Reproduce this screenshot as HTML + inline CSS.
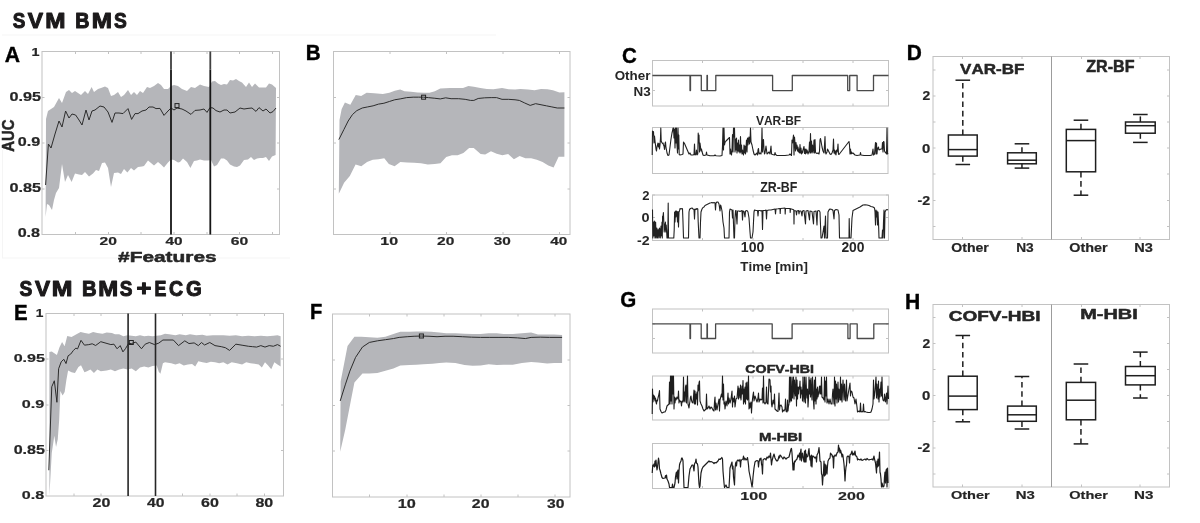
<!DOCTYPE html>
<html><head><meta charset="utf-8"><title>Figure</title>
<style>
html,body{margin:0;padding:0;background:#fff;}
body{width:1200px;height:523px;overflow:hidden;}
svg{display:block;will-change:transform;}
text{font-family:"Liberation Sans",sans-serif;font-weight:bold;font-kerning:none;}
</style></head>
<body>
<svg width="1200" height="523" viewBox="0 0 1200 523">
<rect width="1200" height="523" fill="#fff"/>
<text x="12.76" y="28.2" font-size="21.37" textLength="12.58" lengthAdjust="spacingAndGlyphs" fill="#1c1a1b" stroke="#1c1a1b" stroke-width="1.0" stroke-linejoin="round" >S</text>
<text x="27.84" y="28.2" font-size="21.37" textLength="15.31" lengthAdjust="spacingAndGlyphs" fill="#1c1a1b" stroke="#1c1a1b" stroke-width="1.0" stroke-linejoin="round" >V</text>
<text x="45.37" y="28.2" font-size="21.37" textLength="20.25" lengthAdjust="spacingAndGlyphs" fill="#1c1a1b" stroke="#1c1a1b" stroke-width="1.0" stroke-linejoin="round" >M</text>
<text x="75.18" y="28.2" font-size="21.37" textLength="14.21" lengthAdjust="spacingAndGlyphs" fill="#1c1a1b" stroke="#1c1a1b" stroke-width="1.0" stroke-linejoin="round" >B</text>
<text x="91.87" y="28.2" font-size="21.37" textLength="20.25" lengthAdjust="spacingAndGlyphs" fill="#1c1a1b" stroke="#1c1a1b" stroke-width="1.0" stroke-linejoin="round" >M</text>
<text x="113.95" y="28.2" font-size="21.37" textLength="12.8" lengthAdjust="spacingAndGlyphs" fill="#1c1a1b" stroke="#1c1a1b" stroke-width="1.0" stroke-linejoin="round" >S</text>
<text x="19.55" y="295.6" font-size="21.37" textLength="12.8" lengthAdjust="spacingAndGlyphs" fill="#1c1a1b" stroke="#1c1a1b" stroke-width="1.0" stroke-linejoin="round" >S</text>
<text x="34.95" y="295.6" font-size="21.37" textLength="15.11" lengthAdjust="spacingAndGlyphs" fill="#1c1a1b" stroke="#1c1a1b" stroke-width="1.0" stroke-linejoin="round" >V</text>
<text x="51.74" y="295.6" font-size="21.37" textLength="20.67" lengthAdjust="spacingAndGlyphs" fill="#1c1a1b" stroke="#1c1a1b" stroke-width="1.0" stroke-linejoin="round" >M</text>
<text x="82.05" y="295.6" font-size="21.37" textLength="14.62" lengthAdjust="spacingAndGlyphs" fill="#1c1a1b" stroke="#1c1a1b" stroke-width="1.0" stroke-linejoin="round" >B</text>
<text x="98.2" y="295.6" font-size="21.37" textLength="19.9" lengthAdjust="spacingAndGlyphs" fill="#1c1a1b" stroke="#1c1a1b" stroke-width="1.0" stroke-linejoin="round" >M</text>
<text x="119.75" y="295.6" font-size="21.37" textLength="12.69" lengthAdjust="spacingAndGlyphs" fill="#1c1a1b" stroke="#1c1a1b" stroke-width="1.0" stroke-linejoin="round" >S</text>
<text x="136.63" y="295.6" font-size="21.37" textLength="14.91" lengthAdjust="spacingAndGlyphs" fill="#1c1a1b" stroke="#1c1a1b" stroke-width="1.0" stroke-linejoin="round" >+</text>
<text x="154.41" y="295.6" font-size="21.37" textLength="11.89" lengthAdjust="spacingAndGlyphs" fill="#1c1a1b" stroke="#1c1a1b" stroke-width="1.0" stroke-linejoin="round" >E</text>
<text x="169" y="295.6" font-size="21.37" textLength="14.14" lengthAdjust="spacingAndGlyphs" fill="#1c1a1b" stroke="#1c1a1b" stroke-width="1.0" stroke-linejoin="round" >C</text>
<text x="185.97" y="295.6" font-size="21.37" textLength="15.79" lengthAdjust="spacingAndGlyphs" fill="#1c1a1b" stroke="#1c1a1b" stroke-width="1.0" stroke-linejoin="round" >G</text>
<g stroke="#f5f5f5" stroke-width="1">
<line x1="2" y1="35" x2="496" y2="35"/>
<line x1="2.5" y1="150" x2="2.5" y2="258"/>
<line x1="2" y1="258" x2="290" y2="258"/>
</g>
<text x="4.87" y="61.9" font-size="21.51" textLength="15.29" lengthAdjust="spacingAndGlyphs" fill="#000" stroke="#000" stroke-width="0.4" stroke-linejoin="round" >A</text>
<polygon points="46,119 48,111 51,109 54,107 59,98 62,103 66,92 69,90 72,93 75,91 78,93 81,95 85,91 88,94 91.6,87 94,92 98,89 101,88 105,86.6 108,88 111,96 114,95 118,92 121,97 124,95 128,90 131,95 134,92 137,95 140,91 143,93 147,87 150,88 154,86 158,83 161,85 164,89 168,89 171,86 174,85 178,86 182,89 187,91 191,87 195,88 200,84.4 204,86 209,87 212,81.6 215,81 218,83.6 221,85 224,84 227,84.4 230,80 233,80.4 236,79 239,81 242,82.4 246,87 249,82.4 252,87 255,83.6 259,87.6 262,87.6 266,87.6 269,83.6 272,84.4 276,88 275.6,155 272,156.4 269,161 266,157 263,158 260,158 257,158.4 254,160 251,157 248,159.6 244,160 240,165.4 237,167 234,166.4 230,164.4 227,160.6 224,158.4 221,158.4 217,165 214,166.6 211,160 208,160.4 204,160.6 200,159.6 197,160.6 194,161 190.4,168 187,162 183,158.4 180,162 178,162.4 174,160 171,159.6 168,162.4 164,167.6 161,164.4 158,162 154,165.6 151,163 148,160.6 144,166 142,166.6 138,167 134,170.6 131,168 127.4,172.4 124,169 121,174 118,172.4 114,173 111,187 108,168 105,162.4 102,163 99,171 96,170 93,173.6 89,176.6 85,172 82,175 79,174.4 75,173.6 71.6,182 68,175 65,182 62,164 59,188 56,193 54,200 52,210 49,205 47,204 45.6,217" fill="#b5b6ba" stroke="none"/>
<polyline points="45.6,185 48.4,144 51,148 55,134 59,121 62,127 65.6,111 69,118 72,114 75.6,115 79,120 82,125 86,110 89,120 92,111 95,110 100,106 104,107 108,112 112,122.4 115,113 119,113 123,113.6 128,108.6 131.6,119.4 135,113.6 138,113.6 142,111 146,110 149,107 153,107 156,108.6 160,108.4 164,115.4 168,111 171,108 174,110 177,108 182,109 186,111 191,114.4 195,110.4 200,110 204,109 207,112.4 210,107.6 213,108 216,110.6 220,112 224,110 227,110 230,113 235,112 240,108 244,109 248,108.4 252,108 256,111.4 259,107.6 263,111 266,109 270,113 273,111.6 276,108" fill="none" stroke="#2c2c2c" stroke-width="1.0" stroke-linejoin="round"/>
<rect x="42" y="51.5" width="237.5" height="183" fill="none" stroke="#c2c2c2" stroke-width="1"/>
<line x1="75.5" y1="234.5" x2="75.5" y2="232" stroke="#c2c2c2" stroke-width="1" />
<line x1="75.5" y1="51.5" x2="75.5" y2="54" stroke="#c2c2c2" stroke-width="1" />
<line x1="108.5" y1="234.5" x2="108.5" y2="232" stroke="#c2c2c2" stroke-width="1" />
<line x1="108.5" y1="51.5" x2="108.5" y2="54" stroke="#c2c2c2" stroke-width="1" />
<line x1="141" y1="234.5" x2="141" y2="232" stroke="#c2c2c2" stroke-width="1" />
<line x1="141" y1="51.5" x2="141" y2="54" stroke="#c2c2c2" stroke-width="1" />
<line x1="174" y1="234.5" x2="174" y2="232" stroke="#c2c2c2" stroke-width="1" />
<line x1="174" y1="51.5" x2="174" y2="54" stroke="#c2c2c2" stroke-width="1" />
<line x1="207" y1="234.5" x2="207" y2="232" stroke="#c2c2c2" stroke-width="1" />
<line x1="207" y1="51.5" x2="207" y2="54" stroke="#c2c2c2" stroke-width="1" />
<line x1="239.5" y1="234.5" x2="239.5" y2="232" stroke="#c2c2c2" stroke-width="1" />
<line x1="239.5" y1="51.5" x2="239.5" y2="54" stroke="#c2c2c2" stroke-width="1" />
<line x1="272.5" y1="234.5" x2="272.5" y2="232" stroke="#c2c2c2" stroke-width="1" />
<line x1="272.5" y1="51.5" x2="272.5" y2="54" stroke="#c2c2c2" stroke-width="1" />
<line x1="42" y1="189" x2="44.5" y2="189" stroke="#c2c2c2" stroke-width="1" />
<line x1="279.5" y1="189" x2="277" y2="189" stroke="#c2c2c2" stroke-width="1" />
<line x1="42" y1="143" x2="44.5" y2="143" stroke="#c2c2c2" stroke-width="1" />
<line x1="279.5" y1="143" x2="277" y2="143" stroke="#c2c2c2" stroke-width="1" />
<line x1="42" y1="97.5" x2="44.5" y2="97.5" stroke="#c2c2c2" stroke-width="1" />
<line x1="279.5" y1="97.5" x2="277" y2="97.5" stroke="#c2c2c2" stroke-width="1" />
<line x1="171" y1="51.5" x2="171" y2="69.5" stroke="#404040" stroke-width="1.8" />
<line x1="171" y1="69.5" x2="171" y2="234.5" stroke="#161616" stroke-width="1.8" />
<line x1="210.3" y1="51.5" x2="210.3" y2="69.5" stroke="#404040" stroke-width="1.8" />
<line x1="210.3" y1="69.5" x2="210.3" y2="234.5" stroke="#161616" stroke-width="1.8" />
<rect x="175" y="103.6" width="4" height="4" fill="none" stroke="#222" stroke-width="1"/>
<text x="31.49" y="56" font-size="11.77" textLength="8.01" lengthAdjust="spacingAndGlyphs" fill="#262626" stroke="#262626" stroke-width="0.2" stroke-linejoin="round" >1</text>
<text x="9.46" y="100.7" font-size="12.03" textLength="31.49" lengthAdjust="spacingAndGlyphs" fill="#262626" stroke="#262626" stroke-width="0.2" stroke-linejoin="round" >0.95</text>
<text x="17.86" y="146" font-size="12.03" textLength="22.44" lengthAdjust="spacingAndGlyphs" fill="#262626" stroke="#262626" stroke-width="0.2" stroke-linejoin="round" >0.9</text>
<text x="9.46" y="191.85" font-size="12.03" textLength="31.59" lengthAdjust="spacingAndGlyphs" fill="#262626" stroke="#262626" stroke-width="0.2" stroke-linejoin="round" >0.85</text>
<text x="17.66" y="237.1" font-size="12.03" textLength="22.43" lengthAdjust="spacingAndGlyphs" fill="#262626" stroke="#262626" stroke-width="0.2" stroke-linejoin="round" >0.8</text>
<text x="99.51" y="245.1" font-size="11.74" textLength="17.38" lengthAdjust="spacingAndGlyphs" fill="#262626" stroke="#262626" stroke-width="0.2" stroke-linejoin="round" >20</text>
<text x="165.57" y="245.1" font-size="11.74" textLength="17.06" lengthAdjust="spacingAndGlyphs" fill="#262626" stroke="#262626" stroke-width="0.2" stroke-linejoin="round" >40</text>
<text x="230.73" y="245.1" font-size="11.74" textLength="17.42" lengthAdjust="spacingAndGlyphs" fill="#262626" stroke="#262626" stroke-width="0.2" stroke-linejoin="round" >60</text>
<text x="118.14" y="262.25" font-size="14.9" textLength="98.46" lengthAdjust="spacingAndGlyphs" fill="#262626" stroke="#262626" stroke-width="0.5" stroke-linejoin="round" >#Features</text>
<text transform="translate(14,151.72) rotate(-90)" x="0" y="0" font-size="16.54" textLength="32.38" lengthAdjust="spacingAndGlyphs" fill="#262626" stroke="#262626" stroke-width="0.5">AUC</text>
<text x="305.82" y="60.3" font-size="21.95" textLength="14.92" lengthAdjust="spacingAndGlyphs" fill="#000" stroke="#000" stroke-width="0.4" stroke-linejoin="round" >B</text>
<polygon points="339.5,119.92 341.67,109.09 344.92,102.59 350.34,104.76 355.75,95.01 361.17,96.09 366.59,92.84 374.17,93.27 382.84,93.92 389.34,92.84 394.76,90.67 400.17,89.59 404.51,91.32 411.01,91.76 417.51,92.41 424.01,92.84 429.43,92.84 434.84,91.32 440.26,88.5 450.01,88.07 456.51,88.07 463.01,88.07 468.43,85.9 473.85,86.77 480.35,88.07 486.85,88.94 493.35,89.15 502.02,88.07 508.52,89.15 515.02,89.59 520.43,88.94 528.02,89.59 534.52,90.24 541.02,88.94 547.52,89.15 552.94,90.24 559.44,92.41 564.42,92.19 564.38,156.85 558.64,156.85 553.59,167.4 548.32,165.57 542.58,162.12 536.84,159.83 531.11,158.22 525.37,158.22 519.63,155.93 513.9,159.37 508.16,154.09 502.42,155.24 496.69,153.63 490.95,151.34 485.21,154.55 480.62,154.09 473.74,147.9 469.15,147.9 463.41,152.95 457.68,155.24 451.94,155.24 446.2,157.08 440.47,163.27 434.73,163.96 427.85,164.42 420.96,163.27 414.08,162.81 407.2,162.58 400.31,162.12 394.58,166.26 388.84,163.96 384.25,158.22 378.51,159.37 372.78,159.83 367.04,162.12 361.3,166.26 355.57,164.42 349.83,175.89 344.09,182.78 338.82,193.79" fill="#b5b6ba" stroke="none"/>
<polyline points="338.82,139.64 343.84,129.67 348.17,121.01 352.5,114.51 356.84,110.61 362.25,108.01 367.67,106.92 373.09,105.84 378.5,104.11 383.92,103.24 389.34,101.51 394.76,99.77 400.17,98.91 406.67,97.61 413.17,97.17 418.59,97.17 423.58,97.17 428.34,97.61 434.84,98.26 440.26,98.91 445.68,97.82 451.09,98.69 458.68,98.69 465.18,99.34 470.6,100.42 473.85,100.42 478.18,98.47 484.68,97.82 491.18,97.61 496.6,97.61 502.02,99.34 508.52,99.34 515.02,99.77 519.35,100.42 524.77,103.02 530.18,105.41 535.6,103.67 541.02,104.76 546.44,105.84 551.85,106.92 557.27,108.01 564.42,108.01" fill="none" stroke="#2c2c2c" stroke-width="1.0" stroke-linejoin="round"/>
<rect x="333.5" y="51.5" width="236.5" height="183" fill="none" stroke="#c2c2c2" stroke-width="1"/>
<line x1="390" y1="234.5" x2="390" y2="232" stroke="#c2c2c2" stroke-width="1" />
<line x1="390" y1="51.5" x2="390" y2="54" stroke="#c2c2c2" stroke-width="1" />
<line x1="446.5" y1="234.5" x2="446.5" y2="232" stroke="#c2c2c2" stroke-width="1" />
<line x1="446.5" y1="51.5" x2="446.5" y2="54" stroke="#c2c2c2" stroke-width="1" />
<line x1="503" y1="234.5" x2="503" y2="232" stroke="#c2c2c2" stroke-width="1" />
<line x1="503" y1="51.5" x2="503" y2="54" stroke="#c2c2c2" stroke-width="1" />
<line x1="559.5" y1="234.5" x2="559.5" y2="232" stroke="#c2c2c2" stroke-width="1" />
<line x1="559.5" y1="51.5" x2="559.5" y2="54" stroke="#c2c2c2" stroke-width="1" />
<line x1="333.5" y1="189" x2="336" y2="189" stroke="#c2c2c2" stroke-width="1" />
<line x1="570" y1="189" x2="567.5" y2="189" stroke="#c2c2c2" stroke-width="1" />
<line x1="333.5" y1="143" x2="336" y2="143" stroke="#c2c2c2" stroke-width="1" />
<line x1="570" y1="143" x2="567.5" y2="143" stroke="#c2c2c2" stroke-width="1" />
<line x1="333.5" y1="97.5" x2="336" y2="97.5" stroke="#c2c2c2" stroke-width="1" />
<line x1="570" y1="97.5" x2="567.5" y2="97.5" stroke="#c2c2c2" stroke-width="1" />
<rect x="421.6" y="95.2" width="4" height="4" fill="none" stroke="#222" stroke-width="1"/>
<text x="380.34" y="245.2" font-size="11.6" textLength="17.76" lengthAdjust="spacingAndGlyphs" fill="#262626" stroke="#262626" stroke-width="0.2" stroke-linejoin="round" >10</text>
<text x="437.01" y="245.2" font-size="11.6" textLength="17.28" lengthAdjust="spacingAndGlyphs" fill="#262626" stroke="#262626" stroke-width="0.2" stroke-linejoin="round" >20</text>
<text x="493.85" y="245.2" font-size="11.6" textLength="17.08" lengthAdjust="spacingAndGlyphs" fill="#262626" stroke="#262626" stroke-width="0.2" stroke-linejoin="round" >30</text>
<text x="550.22" y="245.2" font-size="11.6" textLength="16.96" lengthAdjust="spacingAndGlyphs" fill="#262626" stroke="#262626" stroke-width="0.2" stroke-linejoin="round" >40</text>
<text x="621.96" y="63" font-size="22.34" textLength="14.8" lengthAdjust="spacingAndGlyphs" fill="#000" stroke="#000" stroke-width="0.4" stroke-linejoin="round" >C</text>
<rect x="652.5" y="60.5" width="236" height="45.5" fill="none" stroke="#c2c2c2" stroke-width="1"/>
<line x1="702.5" y1="106" x2="702.5" y2="103.5" stroke="#c2c2c2" stroke-width="1" />
<line x1="702.5" y1="60.5" x2="702.5" y2="63" stroke="#c2c2c2" stroke-width="1" />
<line x1="753" y1="106" x2="753" y2="103.5" stroke="#c2c2c2" stroke-width="1" />
<line x1="753" y1="60.5" x2="753" y2="63" stroke="#c2c2c2" stroke-width="1" />
<line x1="803" y1="106" x2="803" y2="103.5" stroke="#c2c2c2" stroke-width="1" />
<line x1="803" y1="60.5" x2="803" y2="63" stroke="#c2c2c2" stroke-width="1" />
<line x1="853" y1="106" x2="853" y2="103.5" stroke="#c2c2c2" stroke-width="1" />
<line x1="853" y1="60.5" x2="853" y2="63" stroke="#c2c2c2" stroke-width="1" />
<line x1="652.5" y1="75.5" x2="655" y2="75.5" stroke="#c2c2c2" stroke-width="1" />
<line x1="888.5" y1="75.5" x2="886" y2="75.5" stroke="#c2c2c2" stroke-width="1" />
<line x1="652.5" y1="90.5" x2="655" y2="90.5" stroke="#c2c2c2" stroke-width="1" />
<line x1="888.5" y1="90.5" x2="886" y2="90.5" stroke="#c2c2c2" stroke-width="1" />
<polyline points="652.4,75.5 690,75.5 690,90.6 690.5,90.6 690.5,75.5 701.3,75.5 701.3,90.6 707,90.6 707,75.5 707.4,75.5 707.4,90.6 715.8,90.6 715.8,75.5 772.6,75.5 772.6,90.6 792.3,90.6 792.3,75.5 847.7,75.5 847.7,90.6 849.7,90.6 849.7,75.5 857.1,75.5 857.1,90.6 873.5,90.6 873.5,75.5 888.5,75.5" fill="none" stroke="#4a4a4a" stroke-width="1.3" stroke-linejoin="round"/>
<text x="614.65" y="80.2" font-size="12.6" textLength="35.75" lengthAdjust="spacingAndGlyphs" fill="#262626" >Other</text>
<text x="633.5" y="95.6" font-size="13.61" textLength="17.19" lengthAdjust="spacingAndGlyphs" fill="#262626" >N3</text>
<rect x="652.5" y="127.5" width="235.5" height="46" fill="none" stroke="#c2c2c2" stroke-width="1"/>
<line x1="702.5" y1="173.5" x2="702.5" y2="171" stroke="#c2c2c2" stroke-width="1" />
<line x1="702.5" y1="127.5" x2="702.5" y2="130" stroke="#c2c2c2" stroke-width="1" />
<line x1="753" y1="173.5" x2="753" y2="171" stroke="#c2c2c2" stroke-width="1" />
<line x1="753" y1="127.5" x2="753" y2="130" stroke="#c2c2c2" stroke-width="1" />
<line x1="803" y1="173.5" x2="803" y2="171" stroke="#c2c2c2" stroke-width="1" />
<line x1="803" y1="127.5" x2="803" y2="130" stroke="#c2c2c2" stroke-width="1" />
<line x1="853" y1="173.5" x2="853" y2="171" stroke="#c2c2c2" stroke-width="1" />
<line x1="853" y1="127.5" x2="853" y2="130" stroke="#c2c2c2" stroke-width="1" />
<polyline points="652.2,155 652.5,131 653,135 653.5,131.5 654,143 654.5,136 655,141 655.5,145 656,149 656.5,151 657,147 657.5,145 658,143 658.5,147 659,143.5 659.5,149 660,145 660.5,138 660.8,128 661.2,141 661.8,142.5 662.5,143.5 663,143 663.5,145 664,146 664.5,149.5 665,144 665.5,142 666,148 666.5,150 667,153 668,155.5 669,155 670,147 671,139 672,133 672.5,131 673,128 673.5,128 674,138 674.5,129 675,148 675.5,128 676,143 676.5,128 677,145 677.5,153 678,128 678.5,149 678.8,135 679.2,154.5 680,155 682,154.5 683,154 683.5,142 684.5,143.5 686,147 687.5,150.5 689,154 690,153 691,155 693,155 694,154.5 694.5,144 695,155 696,154 696.5,150 697,155 697.8,154 698.2,133 698.7,143 699,135 699.5,152 700,143 700.5,147 701,151 701.5,149 702,151.5 703,155 704,155.5 706,155 706.5,152 707,155 710,155.8 714,155.8 715,155 716,155.8 720,156 722,155.5 722.5,146 723,128 723.5,150 724,128 724.5,145 725,142.5 726,141 728,139 729.5,137.5 730,154 730.5,149 731,154 731.5,155 732,150 732.5,134.5 733,152 733.5,128 734,137 734.5,128 735,152 735.5,139 736,150 736.5,138 737,153 737.5,143 738,151 738.5,140 739,152 739.5,145 740,153 740.5,136.5 741,152 741.5,145 742,154 742.5,150 743,153 743.5,155 744,145 744.5,153 745,146 745.5,154 746,148 746.5,140 747,152 747.5,138 748,145 748.5,139 749,137 749.5,144 750,141 750.5,128 751,142 752,145 753,150 754,154 755,155 756,154 757,153 757.5,155 758,150 758.5,148.5 759,154 760,153 761,154 761.5,150 762,128 762.5,152 763,141 763.5,139.5 764,150 764.5,154 765,153 766,146 766.5,150 767,154 768,153 769,152 770,154 771,146 771.5,154 772.5,154.5 774.5,155 775,152.5 775.5,154.5 777,155.5 780,155.5 785,155.5 789,155 790,154 791.5,155.5 792,140 792.5,143 793,139 793.5,135 794,155 794.5,137 795,143 795.5,151 796,142.5 796.5,149 797,145 797.5,151 798,147 798.5,152 799,149 799.5,153 800,144.5 800.5,153 801,148 801.5,154 802,151 802.5,153 803,150 804,146.5 804.5,153.5 805,149 805.5,154 806,149 806.5,153 807,150 808,154 809,151 809.5,142 810,153 810.5,133.5 811,153 811.5,141 812,152 812.5,145 813,153 813.5,149 814,140 814.5,153 815,139.5 815.5,152 816,153 817,153.5 818,153 819,154 819.5,151 820,140 820.5,138.5 821,141 822,147 823,151 824,153 824.5,145 825,136.5 825.5,152 826,154 827,152 827.5,149 828,150 829,152 830,154 831,154.5 832,153 833,150 833.5,139 834,153 834.5,150 835,154 835.5,151 836,155 836.5,150 837,152 837.5,150 838,144 838.5,154 839,154.5 849,141.5 849.5,145 850,154 850.5,149 851,154 851.5,152 852,153.5 853,153 854,154 855,155 857,155.5 860,155 860.5,152.5 861,155 864,155.5 870,155.5 872,155 873,149 873.5,155 874.5,154 875.5,142.5 876,154 876.5,143 877,154 877.5,148 878,149 878.5,147 879,150 880,149.5 881,149 882,149 882.5,142.5 883,152 883.5,141.5 884,142 884.5,151 885,152 886,153 886.5,154 887,128 887.5,154 888,153" fill="none" stroke="#222" stroke-width="1.1" stroke-linejoin="round"/>
<text x="755.92" y="124.7" font-size="13.66" textLength="45.22" lengthAdjust="spacingAndGlyphs" fill="#262626" >VAR-BF</text>
<rect x="652.5" y="195" width="236" height="45.5" fill="none" stroke="#c2c2c2" stroke-width="1"/>
<line x1="702.5" y1="240.5" x2="702.5" y2="238" stroke="#c2c2c2" stroke-width="1" />
<line x1="702.5" y1="195" x2="702.5" y2="197.5" stroke="#c2c2c2" stroke-width="1" />
<line x1="753" y1="240.5" x2="753" y2="238" stroke="#c2c2c2" stroke-width="1" />
<line x1="753" y1="195" x2="753" y2="197.5" stroke="#c2c2c2" stroke-width="1" />
<line x1="803" y1="240.5" x2="803" y2="238" stroke="#c2c2c2" stroke-width="1" />
<line x1="803" y1="195" x2="803" y2="197.5" stroke="#c2c2c2" stroke-width="1" />
<line x1="853" y1="240.5" x2="853" y2="238" stroke="#c2c2c2" stroke-width="1" />
<line x1="853" y1="195" x2="853" y2="197.5" stroke="#c2c2c2" stroke-width="1" />
<line x1="652.5" y1="195" x2="655" y2="195" stroke="#c2c2c2" stroke-width="1" />
<line x1="888.5" y1="195" x2="886" y2="195" stroke="#c2c2c2" stroke-width="1" />
<line x1="652.5" y1="217.5" x2="655" y2="217.5" stroke="#c2c2c2" stroke-width="1" />
<line x1="888.5" y1="217.5" x2="886" y2="217.5" stroke="#c2c2c2" stroke-width="1" />
<line x1="652.5" y1="240.5" x2="655" y2="240.5" stroke="#c2c2c2" stroke-width="1" />
<line x1="888.5" y1="240.5" x2="886" y2="240.5" stroke="#c2c2c2" stroke-width="1" />
<polyline points="652.5,209.5 652.8,238 653.3,222 653.8,236 654.4,221 655,238 655.6,222 656.2,238 656.8,228 657.5,238 658.2,229 658.9,238 659.6,228 660.3,238 661,226 661.6,236 662,222 662.3,238 662.6,216 663,217 663.4,212.5 663.8,222 664.2,232 664.6,224 665,230 665.4,222 665.8,232 666.2,225 666.6,230 667,238 667.5,234 667.8,238 668.2,203 668.5,238 670,238 672,238 673.8,238 674.2,230 674.6,212 675,222 675.5,211 676,217 676.5,211 677,212 677.5,222 678,211.5 678.5,227 679,212 679.5,211 680,208.5 681,209 682,208.5 682.5,209 683,222 683.5,238 686,238 688.5,238 689,212 689.5,209.5 690.5,208.5 692,208 693,209 694,209.5 694.5,219 695,209 696,209.5 697,208.5 697.8,209 698.2,222 699,238 700,238 700.5,222 701,212 702,209 703,207.5 704,207 705,205.5 706,205 707,204.5 708,204 709,203.5 710,203 711,202.8 712,202.5 713,203 714,202.5 715,203 715.5,210 716,203 717,202 718,202 719,204 720,211 720.5,205 721,206 722,211 723,222 724,228 724.5,238 729,238 729.5,212 730,209 731,209.5 732,210 732.5,218 733,210 734,238 734.5,238 735,218 735.5,211 736,210.5 737,224 737.5,211 739,211 740,211.5 742,210.5 742.5,220 743,211 744,211.5 745,217 745.5,211 747,210.5 748,212 749,218 750,232 750.5,238 752,238 753,232 754,212 754.5,210 756,210.5 757.5,210.5 758,216 758.5,210.5 760,210.5 761,211 762,210.5 762.5,229.5 763,210.5 765,210.5 766,210 766.5,219 767,210.5 769,210 770,210 771,210 773,209.5 775,209 775.5,214 776,209 778,208.8 780,208.5 780.2,213.5 780.5,208.5 783,208.2 785,208 785.2,214 785.5,208.5 788,208.5 790,208.5 790.2,212.5 790.5,208.8 793,209.5 793.8,210 794,224 794.2,210.5 796,211 796.5,215 797,211 798.5,210.5 799,214 799.5,211 801,211 802,216 802.5,211 804,210.5 805.5,224 806,211 808,210.5 809.5,220 810,211 812,211.5 813.5,224 814,211.5 816,211 817,225 817.5,211 819,210.5 820,212 821,238 822,238 823,232 824,226 824.5,238 825.5,216 826,238 827.5,238 828,212 829,210 830,209 832,209.5 833,210.5 834,219 834.5,210.5 836,209.5 838,210 839,215 839.5,238 849,238 849.2,218.5 849.6,238 851,238 852,218 853,210.5 855,209.5 858,208 860,207 863,205 865,204.8 867,205 869,205.5 871,206.5 873,207 874.5,208 875,212 875.5,225 876,210 876.5,217 877,211 877.5,225 878,212 878.5,222 879,238 882,238 882.5,230 883,238 883.5,222 884,210 884.5,238 885,212 886,210 887,209.5 888,210" fill="none" stroke="#222" stroke-width="1.1" stroke-linejoin="round"/>
<text x="760.13" y="192" font-size="13.81" textLength="37.33" lengthAdjust="spacingAndGlyphs" fill="#262626" >ZR-BF</text>
<text x="642.35" y="200" font-size="12.32" textLength="7.28" lengthAdjust="spacingAndGlyphs" fill="#262626" >2</text>
<text x="641.63" y="221.8" font-size="13.03" textLength="8.07" lengthAdjust="spacingAndGlyphs" fill="#262626" >0</text>
<text x="637.05" y="245.3" font-size="13.03" textLength="12.62" lengthAdjust="spacingAndGlyphs" fill="#262626" >-2</text>
<text x="740.81" y="252.4" font-size="13.75" textLength="23.52" lengthAdjust="spacingAndGlyphs" fill="#262626" >100</text>
<text x="841.42" y="252.4" font-size="13.75" textLength="23.15" lengthAdjust="spacingAndGlyphs" fill="#262626" >200</text>
<text x="740.25" y="270.5" font-size="12.72" textLength="67.6" lengthAdjust="spacingAndGlyphs" fill="#262626" >Time [min]</text>
<text x="906.8" y="60.3" font-size="21.95" textLength="15.07" lengthAdjust="spacingAndGlyphs" fill="#000" stroke="#000" stroke-width="0.4" stroke-linejoin="round" >D</text>
<rect x="933" y="56.5" width="236.5" height="183" fill="none" stroke="#c2c2c2" stroke-width="1"/>
<line x1="1051.5" y1="56.5" x2="1051.5" y2="239.5" stroke="#9c9c9c" stroke-width="1" />
<line x1="933" y1="70" x2="935.5" y2="70" stroke="#c2c2c2" stroke-width="1" />
<line x1="1169.5" y1="70" x2="1167" y2="70" stroke="#c2c2c2" stroke-width="1" />
<line x1="933" y1="96" x2="935.5" y2="96" stroke="#c2c2c2" stroke-width="1" />
<line x1="1169.5" y1="96" x2="1167" y2="96" stroke="#c2c2c2" stroke-width="1" />
<line x1="933" y1="122" x2="935.5" y2="122" stroke="#c2c2c2" stroke-width="1" />
<line x1="1169.5" y1="122" x2="1167" y2="122" stroke="#c2c2c2" stroke-width="1" />
<line x1="933" y1="148" x2="935.5" y2="148" stroke="#c2c2c2" stroke-width="1" />
<line x1="1169.5" y1="148" x2="1167" y2="148" stroke="#c2c2c2" stroke-width="1" />
<line x1="933" y1="174" x2="935.5" y2="174" stroke="#c2c2c2" stroke-width="1" />
<line x1="1169.5" y1="174" x2="1167" y2="174" stroke="#c2c2c2" stroke-width="1" />
<line x1="933" y1="200.5" x2="935.5" y2="200.5" stroke="#c2c2c2" stroke-width="1" />
<line x1="1169.5" y1="200.5" x2="1167" y2="200.5" stroke="#c2c2c2" stroke-width="1" />
<line x1="933" y1="226.5" x2="935.5" y2="226.5" stroke="#c2c2c2" stroke-width="1" />
<line x1="1169.5" y1="226.5" x2="1167" y2="226.5" stroke="#c2c2c2" stroke-width="1" />
<line x1="962.5" y1="56.5" x2="962.5" y2="59" stroke="#c2c2c2" stroke-width="1" />
<line x1="962.5" y1="239.5" x2="962.5" y2="237" stroke="#c2c2c2" stroke-width="1" />
<line x1="1022" y1="56.5" x2="1022" y2="59" stroke="#c2c2c2" stroke-width="1" />
<line x1="1022" y1="239.5" x2="1022" y2="237" stroke="#c2c2c2" stroke-width="1" />
<line x1="1081.5" y1="56.5" x2="1081.5" y2="59" stroke="#c2c2c2" stroke-width="1" />
<line x1="1081.5" y1="239.5" x2="1081.5" y2="237" stroke="#c2c2c2" stroke-width="1" />
<line x1="1140" y1="56.5" x2="1140" y2="59" stroke="#c2c2c2" stroke-width="1" />
<line x1="1140" y1="239.5" x2="1140" y2="237" stroke="#c2c2c2" stroke-width="1" />
<text x="922.42" y="100.3" font-size="12.6" textLength="7.74" lengthAdjust="spacingAndGlyphs" fill="#262626" stroke="#262626" stroke-width="0.2" stroke-linejoin="round" >2</text>
<text x="921.91" y="152.5" font-size="12.6" textLength="8.3" lengthAdjust="spacingAndGlyphs" fill="#262626" stroke="#262626" stroke-width="0.2" stroke-linejoin="round" >0</text>
<text x="917.55" y="204.7" font-size="12.6" textLength="12.62" lengthAdjust="spacingAndGlyphs" fill="#262626" stroke="#262626" stroke-width="0.2" stroke-linejoin="round" >-2</text>
<text x="960.13" y="73.75" font-size="15.26" textLength="64.24" lengthAdjust="spacingAndGlyphs" fill="#262626" stroke="#262626" stroke-width="0.5" stroke-linejoin="round" >VAR-BF</text>
<text x="1086.27" y="72.45" font-size="16.28" textLength="48.27" lengthAdjust="spacingAndGlyphs" fill="#262626" stroke="#262626" stroke-width="0.5" stroke-linejoin="round" >ZR-BF</text>
<rect x="948.4" y="135" width="28.8" height="21.1" fill="none" stroke="#1e1e1e" stroke-width="1.5"/>
<line x1="948.4" y1="149.6" x2="977.2" y2="149.6" stroke="#1e1e1e" stroke-width="1.5" />
<line x1="962.8" y1="135" x2="962.8" y2="80.2" stroke="#1e1e1e" stroke-width="1.5" stroke-dasharray="5.6,3.7"/>
<line x1="962.8" y1="156.1" x2="962.8" y2="164.5" stroke="#1e1e1e" stroke-width="1.5" stroke-dasharray="5.6,3.7"/>
<line x1="955.5" y1="80.2" x2="970.1" y2="80.2" stroke="#1e1e1e" stroke-width="1.5" />
<line x1="955.5" y1="164.5" x2="970.1" y2="164.5" stroke="#1e1e1e" stroke-width="1.5" />
<rect x="1007.6" y="152.8" width="28.7" height="11" fill="none" stroke="#1e1e1e" stroke-width="1.5"/>
<line x1="1007.6" y1="160.2" x2="1036.3" y2="160.2" stroke="#1e1e1e" stroke-width="1.5" />
<line x1="1021.95" y1="152.8" x2="1021.95" y2="143.8" stroke="#1e1e1e" stroke-width="1.5" stroke-dasharray="5.6,3.7"/>
<line x1="1021.95" y1="163.8" x2="1021.95" y2="168.1" stroke="#1e1e1e" stroke-width="1.5" stroke-dasharray="5.6,3.7"/>
<line x1="1014.65" y1="143.8" x2="1029.25" y2="143.8" stroke="#1e1e1e" stroke-width="1.5" />
<line x1="1014.65" y1="168.1" x2="1029.25" y2="168.1" stroke="#1e1e1e" stroke-width="1.5" />
<rect x="1066.3" y="129.4" width="29.3" height="42.4" fill="none" stroke="#1e1e1e" stroke-width="1.5"/>
<line x1="1066.3" y1="140.6" x2="1095.6" y2="140.6" stroke="#1e1e1e" stroke-width="1.5" />
<line x1="1080.95" y1="129.4" x2="1080.95" y2="120.2" stroke="#1e1e1e" stroke-width="1.5" stroke-dasharray="5.6,3.7"/>
<line x1="1080.95" y1="171.8" x2="1080.95" y2="195.2" stroke="#1e1e1e" stroke-width="1.5" stroke-dasharray="5.6,3.7"/>
<line x1="1073.65" y1="120.2" x2="1088.25" y2="120.2" stroke="#1e1e1e" stroke-width="1.5" />
<line x1="1073.65" y1="195.2" x2="1088.25" y2="195.2" stroke="#1e1e1e" stroke-width="1.5" />
<rect x="1125.5" y="122" width="29.7" height="11.2" fill="none" stroke="#1e1e1e" stroke-width="1.5"/>
<line x1="1125.5" y1="125.7" x2="1155.2" y2="125.7" stroke="#1e1e1e" stroke-width="1.5" />
<line x1="1140.35" y1="122" x2="1140.35" y2="114.5" stroke="#1e1e1e" stroke-width="1.5" stroke-dasharray="5.6,3.7"/>
<line x1="1140.35" y1="133.2" x2="1140.35" y2="142.4" stroke="#1e1e1e" stroke-width="1.5" stroke-dasharray="5.6,3.7"/>
<line x1="1133.05" y1="114.5" x2="1147.65" y2="114.5" stroke="#1e1e1e" stroke-width="1.5" />
<line x1="1133.05" y1="142.4" x2="1147.65" y2="142.4" stroke="#1e1e1e" stroke-width="1.5" />
<text x="951.22" y="251.7" font-size="12.17" textLength="37.64" lengthAdjust="spacingAndGlyphs" fill="#262626" stroke="#262626" stroke-width="0.2" stroke-linejoin="round" >Other</text>
<text x="1016.18" y="251.7" font-size="12.17" textLength="17.51" lengthAdjust="spacingAndGlyphs" fill="#262626" stroke="#262626" stroke-width="0.2" stroke-linejoin="round" >N3</text>
<text x="1069.31" y="251.7" font-size="12.17" textLength="38.41" lengthAdjust="spacingAndGlyphs" fill="#262626" stroke="#262626" stroke-width="0.2" stroke-linejoin="round" >Other</text>
<text x="1134.33" y="251.7" font-size="12.17" textLength="18.6" lengthAdjust="spacingAndGlyphs" fill="#262626" stroke="#262626" stroke-width="0.2" stroke-linejoin="round" >N3</text>
<text x="904.99" y="308.6" font-size="22.38" textLength="15.23" lengthAdjust="spacingAndGlyphs" fill="#000" stroke="#000" stroke-width="0.4" stroke-linejoin="round" >H</text>
<rect x="933" y="304.5" width="236.5" height="182.5" fill="none" stroke="#c2c2c2" stroke-width="1"/>
<line x1="1051.5" y1="304.5" x2="1051.5" y2="487" stroke="#9c9c9c" stroke-width="1" />
<line x1="933" y1="317.5" x2="935.5" y2="317.5" stroke="#c2c2c2" stroke-width="1" />
<line x1="1169.5" y1="317.5" x2="1167" y2="317.5" stroke="#c2c2c2" stroke-width="1" />
<line x1="933" y1="343.5" x2="935.5" y2="343.5" stroke="#c2c2c2" stroke-width="1" />
<line x1="1169.5" y1="343.5" x2="1167" y2="343.5" stroke="#c2c2c2" stroke-width="1" />
<line x1="933" y1="369.5" x2="935.5" y2="369.5" stroke="#c2c2c2" stroke-width="1" />
<line x1="1169.5" y1="369.5" x2="1167" y2="369.5" stroke="#c2c2c2" stroke-width="1" />
<line x1="933" y1="395.5" x2="935.5" y2="395.5" stroke="#c2c2c2" stroke-width="1" />
<line x1="1169.5" y1="395.5" x2="1167" y2="395.5" stroke="#c2c2c2" stroke-width="1" />
<line x1="933" y1="421.5" x2="935.5" y2="421.5" stroke="#c2c2c2" stroke-width="1" />
<line x1="1169.5" y1="421.5" x2="1167" y2="421.5" stroke="#c2c2c2" stroke-width="1" />
<line x1="933" y1="448" x2="935.5" y2="448" stroke="#c2c2c2" stroke-width="1" />
<line x1="1169.5" y1="448" x2="1167" y2="448" stroke="#c2c2c2" stroke-width="1" />
<line x1="933" y1="474" x2="935.5" y2="474" stroke="#c2c2c2" stroke-width="1" />
<line x1="1169.5" y1="474" x2="1167" y2="474" stroke="#c2c2c2" stroke-width="1" />
<line x1="962.5" y1="304.5" x2="962.5" y2="307" stroke="#c2c2c2" stroke-width="1" />
<line x1="962.5" y1="487" x2="962.5" y2="484.5" stroke="#c2c2c2" stroke-width="1" />
<line x1="1022" y1="304.5" x2="1022" y2="307" stroke="#c2c2c2" stroke-width="1" />
<line x1="1022" y1="487" x2="1022" y2="484.5" stroke="#c2c2c2" stroke-width="1" />
<line x1="1081.5" y1="304.5" x2="1081.5" y2="307" stroke="#c2c2c2" stroke-width="1" />
<line x1="1081.5" y1="487" x2="1081.5" y2="484.5" stroke="#c2c2c2" stroke-width="1" />
<line x1="1140" y1="304.5" x2="1140" y2="307" stroke="#c2c2c2" stroke-width="1" />
<line x1="1140" y1="487" x2="1140" y2="484.5" stroke="#c2c2c2" stroke-width="1" />
<text x="922.42" y="347.8" font-size="12.6" textLength="7.74" lengthAdjust="spacingAndGlyphs" fill="#262626" stroke="#262626" stroke-width="0.2" stroke-linejoin="round" >2</text>
<text x="921.91" y="400" font-size="12.6" textLength="8.3" lengthAdjust="spacingAndGlyphs" fill="#262626" stroke="#262626" stroke-width="0.2" stroke-linejoin="round" >0</text>
<text x="917.55" y="452.2" font-size="12.6" textLength="12.62" lengthAdjust="spacingAndGlyphs" fill="#262626" stroke="#262626" stroke-width="0.2" stroke-linejoin="round" >-2</text>
<text x="948.67" y="321.05" font-size="15.04" textLength="91.85" lengthAdjust="spacingAndGlyphs" fill="#262626" stroke="#262626" stroke-width="0.5" stroke-linejoin="round" >COFV-HBI</text>
<text x="1080.22" y="319.45" font-size="14.83" textLength="57.57" lengthAdjust="spacingAndGlyphs" fill="#262626" stroke="#262626" stroke-width="0.5" stroke-linejoin="round" >M-HBI</text>
<rect x="948.4" y="376.2" width="28.8" height="33.4" fill="none" stroke="#1e1e1e" stroke-width="1.5"/>
<line x1="948.4" y1="396.1" x2="977.2" y2="396.1" stroke="#1e1e1e" stroke-width="1.5" />
<line x1="962.8" y1="376.2" x2="962.8" y2="335.5" stroke="#1e1e1e" stroke-width="1.5" stroke-dasharray="5.6,3.7"/>
<line x1="962.8" y1="409.6" x2="962.8" y2="421.8" stroke="#1e1e1e" stroke-width="1.5" stroke-dasharray="5.6,3.7"/>
<line x1="955.5" y1="335.5" x2="970.1" y2="335.5" stroke="#1e1e1e" stroke-width="1.5" />
<line x1="955.5" y1="421.8" x2="970.1" y2="421.8" stroke="#1e1e1e" stroke-width="1.5" />
<rect x="1007.6" y="406.1" width="28.7" height="15.2" fill="none" stroke="#1e1e1e" stroke-width="1.5"/>
<line x1="1007.6" y1="414.8" x2="1036.3" y2="414.8" stroke="#1e1e1e" stroke-width="1.5" />
<line x1="1021.95" y1="406.1" x2="1021.95" y2="376.5" stroke="#1e1e1e" stroke-width="1.5" stroke-dasharray="5.6,3.7"/>
<line x1="1021.95" y1="421.3" x2="1021.95" y2="429" stroke="#1e1e1e" stroke-width="1.5" stroke-dasharray="5.6,3.7"/>
<line x1="1014.65" y1="376.5" x2="1029.25" y2="376.5" stroke="#1e1e1e" stroke-width="1.5" />
<line x1="1014.65" y1="429" x2="1029.25" y2="429" stroke="#1e1e1e" stroke-width="1.5" />
<rect x="1066.3" y="382.4" width="29.3" height="37.4" fill="none" stroke="#1e1e1e" stroke-width="1.5"/>
<line x1="1066.3" y1="400.2" x2="1095.6" y2="400.2" stroke="#1e1e1e" stroke-width="1.5" />
<line x1="1080.95" y1="382.4" x2="1080.95" y2="364" stroke="#1e1e1e" stroke-width="1.5" stroke-dasharray="5.6,3.7"/>
<line x1="1080.95" y1="419.8" x2="1080.95" y2="443.9" stroke="#1e1e1e" stroke-width="1.5" stroke-dasharray="5.6,3.7"/>
<line x1="1073.65" y1="364" x2="1088.25" y2="364" stroke="#1e1e1e" stroke-width="1.5" />
<line x1="1073.65" y1="443.9" x2="1088.25" y2="443.9" stroke="#1e1e1e" stroke-width="1.5" />
<rect x="1125.5" y="366.5" width="29.7" height="18.4" fill="none" stroke="#1e1e1e" stroke-width="1.5"/>
<line x1="1125.5" y1="375.7" x2="1155.2" y2="375.7" stroke="#1e1e1e" stroke-width="1.5" />
<line x1="1140.35" y1="366.5" x2="1140.35" y2="352.1" stroke="#1e1e1e" stroke-width="1.5" stroke-dasharray="5.6,3.7"/>
<line x1="1140.35" y1="384.9" x2="1140.35" y2="398" stroke="#1e1e1e" stroke-width="1.5" stroke-dasharray="5.6,3.7"/>
<line x1="1133.05" y1="352.1" x2="1147.65" y2="352.1" stroke="#1e1e1e" stroke-width="1.5" />
<line x1="1133.05" y1="398" x2="1147.65" y2="398" stroke="#1e1e1e" stroke-width="1.5" />
<text x="950.9" y="499.1" font-size="11.46" textLength="38.82" lengthAdjust="spacingAndGlyphs" fill="#262626" stroke="#262626" stroke-width="0.2" stroke-linejoin="round" >Other</text>
<text x="1015.7" y="499.1" font-size="11.46" textLength="19.14" lengthAdjust="spacingAndGlyphs" fill="#262626" stroke="#262626" stroke-width="0.2" stroke-linejoin="round" >N3</text>
<text x="1069.3" y="499.1" font-size="11.46" textLength="38.72" lengthAdjust="spacingAndGlyphs" fill="#262626" stroke="#262626" stroke-width="0.2" stroke-linejoin="round" >Other</text>
<text x="1133.99" y="499.1" font-size="11.46" textLength="19.36" lengthAdjust="spacingAndGlyphs" fill="#262626" stroke="#262626" stroke-width="0.2" stroke-linejoin="round" >N3</text>
<text x="14.03" y="320.4" font-size="21.8" textLength="13.67" lengthAdjust="spacingAndGlyphs" fill="#000" stroke="#000" stroke-width="0.4" stroke-linejoin="round" >E</text>
<polygon points="49.4,352 51.75,351.51 56.91,354.96 59.49,347.21 62.07,342.05 64.65,346.35 67.24,336.02 71.54,336.88 76.46,334.17 80.62,332.08 84.79,333.12 88.96,333.75 93.12,332.08 97.29,333.12 102.5,333.75 106.67,332.5 111.88,333.12 115,334.17 119.17,334.17 123.33,336.25 127.5,335.21 131.67,335.83 135.83,336.25 140,335.21 144.17,336.25 148.33,335.83 152.5,336.25 156.67,335.83 160.83,335.21 165,333.75 169.17,334.17 175.42,335.21 179.58,334.17 185.83,335.21 190,334.17 196.25,335.21 202.5,334.79 206.67,335.83 212.92,335.21 219.17,335.21 223.33,335.21 229.58,335.83 235.83,335.21 242.08,336.25 248.33,335.83 254.58,336.25 260.83,335.83 267.08,336.25 273.33,335.83 277.5,335.21 280.62,336.25 280.62,366.46 277.5,364.38 274.38,362.29 271.25,369.17 268.12,365.42 265,362.29 261.88,367.5 258.75,364.38 254.58,363.75 250.42,363.33 246.25,362.29 242.08,364.38 236.88,363.33 231.67,362.29 227.5,364.38 223.33,362.29 219.17,363.33 215,362.29 210.83,361.67 206.67,362.92 202.5,362.29 198.33,361.25 195.21,366.46 192.08,363.96 187.92,364.38 183.75,365.42 179.58,363.33 175.42,364.38 171.25,363.33 165,362.29 162.92,363.33 160.42,373.75 158.75,371.67 156.67,365.42 152.5,366.04 148.33,367.5 144.17,366.46 140,367.5 135.83,371.25 131.67,368.54 127.5,369.58 123.33,368.54 119.17,369.58 115,371.25 110.83,369.58 106.67,370.62 100.8,371.31 97.36,369.59 93.91,373.03 90.47,369.59 87.03,371.31 84.45,372.17 81.01,365.28 78.42,367.01 74.98,373.03 71.54,372.17 68.1,370.45 66.38,379.91 64.65,391.96 62.59,395.4 60.35,391.1 59.15,420.33 57.77,439.26 56.05,447.01 54.33,435.82 51.75,453.03 49.4,496" fill="#b5b6ba" stroke="none"/>
<polyline points="48.82,470.24 51.75,386.8 54.33,380.77 56.91,402.29 58.63,368.73 61.21,361.84 63.79,359.26 66.03,363.56 68.1,355.82 70.68,354.1 73.26,350.65 75.84,348.07 77.56,348.93 81.01,340.33 84.45,345.15 88.75,344.63 92.19,343.77 95.64,345.49 100.8,341.7 110.83,344.58 113.96,344.17 117.08,348.75 120.21,345.62 122.92,351.88 125.42,348.75 128.54,343.54 131.67,343.54 135.83,342.08 141.46,348.75 145.21,344.17 149.38,342.5 154.58,344.58 158.75,343.12 162.92,340 173.33,340 178.54,345.62 184.79,340.83 188.96,343.54 194.17,342.92 198.33,345.62 201.46,342.5 204.58,345 209.79,342.5 215,345.62 221.25,346.67 225.42,347.71 229.58,350.42 235.83,344.17 242.08,345.21 248.33,346.25 252.5,346.67 256.67,347.08 260.83,345.62 265,347.08 269.17,345.62 273.33,346.25 277.5,344.58 280.62,346.25" fill="none" stroke="#2c2c2c" stroke-width="1.0" stroke-linejoin="round"/>
<rect x="46" y="313.5" width="237.5" height="182.5" fill="none" stroke="#c2c2c2" stroke-width="1"/>
<line x1="74" y1="496" x2="74" y2="493.5" stroke="#c2c2c2" stroke-width="1" />
<line x1="74" y1="313.5" x2="74" y2="316" stroke="#c2c2c2" stroke-width="1" />
<line x1="101" y1="496" x2="101" y2="493.5" stroke="#c2c2c2" stroke-width="1" />
<line x1="101" y1="313.5" x2="101" y2="316" stroke="#c2c2c2" stroke-width="1" />
<line x1="128.5" y1="496" x2="128.5" y2="493.5" stroke="#c2c2c2" stroke-width="1" />
<line x1="128.5" y1="313.5" x2="128.5" y2="316" stroke="#c2c2c2" stroke-width="1" />
<line x1="155.5" y1="496" x2="155.5" y2="493.5" stroke="#c2c2c2" stroke-width="1" />
<line x1="155.5" y1="313.5" x2="155.5" y2="316" stroke="#c2c2c2" stroke-width="1" />
<line x1="182.5" y1="496" x2="182.5" y2="493.5" stroke="#c2c2c2" stroke-width="1" />
<line x1="182.5" y1="313.5" x2="182.5" y2="316" stroke="#c2c2c2" stroke-width="1" />
<line x1="210" y1="496" x2="210" y2="493.5" stroke="#c2c2c2" stroke-width="1" />
<line x1="210" y1="313.5" x2="210" y2="316" stroke="#c2c2c2" stroke-width="1" />
<line x1="237" y1="496" x2="237" y2="493.5" stroke="#c2c2c2" stroke-width="1" />
<line x1="237" y1="313.5" x2="237" y2="316" stroke="#c2c2c2" stroke-width="1" />
<line x1="264.5" y1="496" x2="264.5" y2="493.5" stroke="#c2c2c2" stroke-width="1" />
<line x1="264.5" y1="313.5" x2="264.5" y2="316" stroke="#c2c2c2" stroke-width="1" />
<line x1="46" y1="450.5" x2="48.5" y2="450.5" stroke="#c2c2c2" stroke-width="1" />
<line x1="283.5" y1="450.5" x2="281" y2="450.5" stroke="#c2c2c2" stroke-width="1" />
<line x1="46" y1="405" x2="48.5" y2="405" stroke="#c2c2c2" stroke-width="1" />
<line x1="283.5" y1="405" x2="281" y2="405" stroke="#c2c2c2" stroke-width="1" />
<line x1="46" y1="359" x2="48.5" y2="359" stroke="#c2c2c2" stroke-width="1" />
<line x1="283.5" y1="359" x2="281" y2="359" stroke="#c2c2c2" stroke-width="1" />
<line x1="128.1" y1="313.5" x2="128.1" y2="496" stroke="#262626" stroke-width="1.6" />
<line x1="155.5" y1="313.5" x2="155.5" y2="496" stroke="#262626" stroke-width="1.6" />
<rect x="129.3" y="340.5" width="4" height="4" fill="none" stroke="#222" stroke-width="1"/>
<text x="35.73" y="316.8" font-size="11.77" textLength="7.65" lengthAdjust="spacingAndGlyphs" fill="#262626" stroke="#262626" stroke-width="0.2" stroke-linejoin="round" >1</text>
<text x="13.66" y="362.1" font-size="11.6" textLength="31.28" lengthAdjust="spacingAndGlyphs" fill="#262626" stroke="#262626" stroke-width="0.2" stroke-linejoin="round" >0.95</text>
<text x="21.86" y="408.1" font-size="11.74" textLength="22.44" lengthAdjust="spacingAndGlyphs" fill="#262626" stroke="#262626" stroke-width="0.2" stroke-linejoin="round" >0.9</text>
<text x="13.66" y="453.5" font-size="12.03" textLength="31.28" lengthAdjust="spacingAndGlyphs" fill="#262626" stroke="#262626" stroke-width="0.2" stroke-linejoin="round" >0.85</text>
<text x="21.86" y="499" font-size="11.74" textLength="22.33" lengthAdjust="spacingAndGlyphs" fill="#262626" stroke="#262626" stroke-width="0.2" stroke-linejoin="round" >0.8</text>
<text x="92.54" y="506.7" font-size="12.03" textLength="17.81" lengthAdjust="spacingAndGlyphs" fill="#262626" stroke="#262626" stroke-width="0.2" stroke-linejoin="round" >20</text>
<text x="147.06" y="506.7" font-size="12.03" textLength="17.48" lengthAdjust="spacingAndGlyphs" fill="#262626" stroke="#262626" stroke-width="0.2" stroke-linejoin="round" >40</text>
<text x="201.01" y="506.7" font-size="12.03" textLength="17.85" lengthAdjust="spacingAndGlyphs" fill="#262626" stroke="#262626" stroke-width="0.2" stroke-linejoin="round" >60</text>
<text x="255.49" y="506.7" font-size="12.03" textLength="17.76" lengthAdjust="spacingAndGlyphs" fill="#262626" stroke="#262626" stroke-width="0.2" stroke-linejoin="round" >80</text>
<text x="310.06" y="318.6" font-size="22.38" textLength="12.28" lengthAdjust="spacingAndGlyphs" fill="#000" stroke="#000" stroke-width="0.4" stroke-linejoin="round" >F</text>
<polygon points="340.65,381.46 347.54,345.89 354.42,336.71 361.3,336.71 369.33,337.17 377.37,337.86 385.4,336.71 393.43,333.96 400.31,331.67 409.49,331.67 416.37,331.44 423.26,331.44 431.29,331.67 439.32,332.58 446.2,333.27 455.38,333.27 464.56,333.73 472.59,333.96 480.62,333.96 488.66,333.27 496.69,333.27 503.57,333.96 512.75,333.96 521.93,333.27 531.11,332.58 537.99,334.42 547.17,334.42 554.05,334.42 562.08,334.88 562.08,363.1 554.05,363.1 547.17,363.56 537.99,362.41 531.11,361.96 521.93,363.1 512.75,364.71 503.57,364.71 496.69,364.94 488.66,364.25 480.62,365.4 472.59,365.86 464.56,364.94 455.38,363.1 446.2,362.41 439.32,363.1 432.44,363.79 423.26,364.25 416.37,364.71 409.49,364.94 400.31,365.4 393.43,368.38 385.4,370.67 377.37,372.97 369.33,373.43 362.45,373.43 354.42,382.61 350.98,400 345.24,429.83 340.19,451.63" fill="#b5b6ba" stroke="none"/>
<polyline points="340.19,400.96 345.24,384.9 349.83,371.13 355.57,357.37 362.45,347.04 369.33,342.45 377.37,340.84 385.4,339.7 393.43,338.55 399.16,337.4 407.2,336.71 414.08,336.26 421.42,336.03 428.99,336.26 437.03,336.71 445.06,336.26 453.09,336.26 462.27,336.71 471.45,337.17 480.62,337.4 489.8,337.4 498.98,337.4 508.16,337.4 517.34,337.86 525.37,338.55 531.11,337.4 540.28,337.17 549.46,337.4 562.08,337.4" fill="none" stroke="#2c2c2c" stroke-width="1.0" stroke-linejoin="round"/>
<rect x="332.5" y="314" width="237.5" height="183" fill="none" stroke="#c2c2c2" stroke-width="1"/>
<line x1="369.5" y1="497" x2="369.5" y2="494.5" stroke="#c2c2c2" stroke-width="1" />
<line x1="369.5" y1="314" x2="369.5" y2="316.5" stroke="#c2c2c2" stroke-width="1" />
<line x1="407" y1="497" x2="407" y2="494.5" stroke="#c2c2c2" stroke-width="1" />
<line x1="407" y1="314" x2="407" y2="316.5" stroke="#c2c2c2" stroke-width="1" />
<line x1="444" y1="497" x2="444" y2="494.5" stroke="#c2c2c2" stroke-width="1" />
<line x1="444" y1="314" x2="444" y2="316.5" stroke="#c2c2c2" stroke-width="1" />
<line x1="481" y1="497" x2="481" y2="494.5" stroke="#c2c2c2" stroke-width="1" />
<line x1="481" y1="314" x2="481" y2="316.5" stroke="#c2c2c2" stroke-width="1" />
<line x1="518" y1="497" x2="518" y2="494.5" stroke="#c2c2c2" stroke-width="1" />
<line x1="518" y1="314" x2="518" y2="316.5" stroke="#c2c2c2" stroke-width="1" />
<line x1="555" y1="497" x2="555" y2="494.5" stroke="#c2c2c2" stroke-width="1" />
<line x1="555" y1="314" x2="555" y2="316.5" stroke="#c2c2c2" stroke-width="1" />
<line x1="332.5" y1="451" x2="335" y2="451" stroke="#c2c2c2" stroke-width="1" />
<line x1="570" y1="451" x2="567.5" y2="451" stroke="#c2c2c2" stroke-width="1" />
<line x1="332.5" y1="405.5" x2="335" y2="405.5" stroke="#c2c2c2" stroke-width="1" />
<line x1="570" y1="405.5" x2="567.5" y2="405.5" stroke="#c2c2c2" stroke-width="1" />
<line x1="332.5" y1="360" x2="335" y2="360" stroke="#c2c2c2" stroke-width="1" />
<line x1="570" y1="360" x2="567.5" y2="360" stroke="#c2c2c2" stroke-width="1" />
<rect x="419.4" y="334" width="4" height="4" fill="none" stroke="#222" stroke-width="1"/>
<text x="397.68" y="507.6" font-size="12.17" textLength="18.09" lengthAdjust="spacingAndGlyphs" fill="#262626" stroke="#262626" stroke-width="0.2" stroke-linejoin="round" >10</text>
<text x="471.85" y="507.6" font-size="12.17" textLength="17.6" lengthAdjust="spacingAndGlyphs" fill="#262626" stroke="#262626" stroke-width="0.2" stroke-linejoin="round" >20</text>
<text x="547.04" y="507.6" font-size="12.17" textLength="17.4" lengthAdjust="spacingAndGlyphs" fill="#262626" stroke="#262626" stroke-width="0.2" stroke-linejoin="round" >30</text>
<text x="620.26" y="307.2" font-size="22.91" textLength="16.02" lengthAdjust="spacingAndGlyphs" fill="#000" stroke="#000" stroke-width="0.4" stroke-linejoin="round" >G</text>
<rect x="652.5" y="309" width="236" height="44" fill="none" stroke="#c2c2c2" stroke-width="1"/>
<line x1="702.5" y1="353" x2="702.5" y2="350.5" stroke="#c2c2c2" stroke-width="1" />
<line x1="702.5" y1="309" x2="702.5" y2="311.5" stroke="#c2c2c2" stroke-width="1" />
<line x1="753" y1="353" x2="753" y2="350.5" stroke="#c2c2c2" stroke-width="1" />
<line x1="753" y1="309" x2="753" y2="311.5" stroke="#c2c2c2" stroke-width="1" />
<line x1="803" y1="353" x2="803" y2="350.5" stroke="#c2c2c2" stroke-width="1" />
<line x1="803" y1="309" x2="803" y2="311.5" stroke="#c2c2c2" stroke-width="1" />
<line x1="853" y1="353" x2="853" y2="350.5" stroke="#c2c2c2" stroke-width="1" />
<line x1="853" y1="309" x2="853" y2="311.5" stroke="#c2c2c2" stroke-width="1" />
<line x1="652.5" y1="324" x2="655" y2="324" stroke="#c2c2c2" stroke-width="1" />
<line x1="888.5" y1="324" x2="886" y2="324" stroke="#c2c2c2" stroke-width="1" />
<line x1="652.5" y1="338.5" x2="655" y2="338.5" stroke="#c2c2c2" stroke-width="1" />
<line x1="888.5" y1="338.5" x2="886" y2="338.5" stroke="#c2c2c2" stroke-width="1" />
<polyline points="652.3,323.9 690,323.9 690,338.5 690.5,338.5 690.5,323.9 701.2,323.9 701.2,338.5 707,338.5 707,323.9 707.4,323.9 707.4,338.5 715.6,338.5 715.6,323.9 772.2,323.9 772.2,338.5 792.1,338.5 792.1,323.9 847.9,323.9 847.9,338.5 850.1,338.5 850.1,323.9 857.2,323.9 857.2,338.5 873.8,338.5 873.8,323.9 888.7,323.9" fill="none" stroke="#4a4a4a" stroke-width="1.3" stroke-linejoin="round"/>
<rect x="652.5" y="376" width="236.5" height="44" fill="none" stroke="#c2c2c2" stroke-width="1"/>
<line x1="702.5" y1="420" x2="702.5" y2="417.5" stroke="#c2c2c2" stroke-width="1" />
<line x1="702.5" y1="376" x2="702.5" y2="378.5" stroke="#c2c2c2" stroke-width="1" />
<line x1="753" y1="420" x2="753" y2="417.5" stroke="#c2c2c2" stroke-width="1" />
<line x1="753" y1="376" x2="753" y2="378.5" stroke="#c2c2c2" stroke-width="1" />
<line x1="803" y1="420" x2="803" y2="417.5" stroke="#c2c2c2" stroke-width="1" />
<line x1="803" y1="376" x2="803" y2="378.5" stroke="#c2c2c2" stroke-width="1" />
<line x1="853" y1="420" x2="853" y2="417.5" stroke="#c2c2c2" stroke-width="1" />
<line x1="853" y1="376" x2="853" y2="378.5" stroke="#c2c2c2" stroke-width="1" />
<polyline points="652.2,414 652.5,389 653,402 653.5,395 654,399 654.5,396 655,401 655.5,398 656,402 656.5,404 657,400 657.5,401 658,398 658.5,396 659,394 659.5,390.5 660,409 661,411.5 662,413 663,412.5 664,412 665,412 666,410 667,406 668,405 669,404 669.5,382 670,404 670.5,376 671,401 671.5,376 672,404 672.5,376 673,394 673.5,376 674,409 674.5,397 675,403 675.5,398 676,400 677,397 678,399 678.5,391 679,403 679.5,400 680,401 681,402 681.5,406 682,401 683,402 683.5,377 684,401 684.5,392 685,402 685.5,387 686,385 686.5,403 687,390 687.5,376 688,404 688.5,406 689,408 689.5,404 690,401 690.5,397 691,396 691.5,400 692,402 693,403 694,390 694.5,404 695,391 695.5,404 696,394 696.5,399 697,392 697.5,405 698,385 698.5,391 699,383 699.5,381 700,401 701,404 702,406 703,409 704,411 705,410 706,409 706.5,394 707,409 708,408 709,406 710,409 711,407 712,408 713,410 714,411 714.5,402 715,397 715.5,410 716,403 717,410 718,404 719,399 719.5,411 720,400 721,396 721.5,394 722,397 722.5,376 723,400 723.5,384 724,404 724.5,402 725,409 726,401 727,406 728,393 728.5,404 729,398 730,403 731,399 732,391 732.5,407 733,398 734,402 734.5,396 735,407 736,399 737,398 738,386 738.5,399 739,388 740,398 740.5,385 741,400 742,386 742.5,394 743,380.5 743.5,404 744,389 744.5,402 745,387 745.5,404 746,383 746.5,399 747,382 747.5,400 748,398 748.5,376 749,409 749.5,403 750,408 750.5,404 751,402 751.5,413 752,404 752.5,399 753,395 753.5,392 754,401 755,396 756,399 757,402 758,398 758.5,393 759,402 760,399 761,400 762,399 762.5,388 763,403 763.5,376 764,402 765,404 766,402 766.5,387 767,403 768,404 769,379 770,380 770.5,392 771,386 771.5,404 772,407 773,400 774,404 774.5,394 775,409 776,410 777,411 778,411.5 778.5,404 779,393 779.5,410 780,406 781,405 782,407 782.5,412 783,410 784,411 785,409 785.5,399 786,411 787,412 787.5,400 788,411 788.5,406 789,404 789.5,377 790,402 790.5,377 791,400 791.5,401 792,377 792.5,398 793,384 793.5,377 794,399 794.5,380 795,391 795.5,396 796,377 796.5,406 797,380 797.5,399 798,387 798.5,394 799,387 799.5,389 800,381 800.5,398 801,387 801.5,394 802,390 802.5,401 803,377 803.5,394 804,402 804.5,377 805,396 805.5,403 806,377 806.5,391 807,398 807.5,389 808,407 808.5,399 809,377 809.5,394 810,380 810.5,397 811,378 811.5,392 812,400 812.5,377 813,386 813.5,402 814,409 814.5,380 815,401 815.5,377 816,404 816.5,389 817,399 817.5,387 818,397 818.5,394 819,391 819.5,386 820,394 820.5,386 821,394 821.5,377 822,397 823,398 824,400 824.5,377 825,402 825.5,381 826,396 826.5,377 827,403 828,399 829,404 830,399 831,404 832,404 832.5,394 833,389 834,404 834.5,377 835,406 835.5,381 836,399 836.5,384 837,403 838,382 838.5,402 839,389 840,400 840.5,377 841,400 841.5,384 842,402 843,380 843.5,389 844,400 844.5,384 845,394 845.5,401 846,392 846.5,380 847,401 848,395 849,389 850,383 850.5,396 851,391 852,392 853,397 854,398 855,404 856,399 857,407 857.5,412 859,411 860,412 860.5,403 861,411.5 862,412 863,411 863.5,404 864,412 865,411.5 866,412 868,412.5 870,412.5 871,412 872,409 873,404 873.5,380 874,399 875,391 876,377 876.5,398 877,384 878,399 878.5,381 879,402 879.5,389 880,397 881,382 881.5,396 882,377 882.5,397 883,400 884,401 884.5,394 885.5,402 886.5,393 887,404 888,386 888.5,399" fill="none" stroke="#1e1e1e" stroke-width="1.1" stroke-linejoin="round"/>
<text x="745.34" y="373.07" font-size="11.24" textLength="68.68" lengthAdjust="spacingAndGlyphs" fill="#262626" stroke="#262626" stroke-width="0.45" stroke-linejoin="round" >COFV-HBI</text>
<rect x="652.5" y="443.5" width="236.5" height="45" fill="none" stroke="#c2c2c2" stroke-width="1"/>
<line x1="702.5" y1="488.5" x2="702.5" y2="486" stroke="#c2c2c2" stroke-width="1" />
<line x1="702.5" y1="443.5" x2="702.5" y2="446" stroke="#c2c2c2" stroke-width="1" />
<line x1="753" y1="488.5" x2="753" y2="486" stroke="#c2c2c2" stroke-width="1" />
<line x1="753" y1="443.5" x2="753" y2="446" stroke="#c2c2c2" stroke-width="1" />
<line x1="803" y1="488.5" x2="803" y2="486" stroke="#c2c2c2" stroke-width="1" />
<line x1="803" y1="443.5" x2="803" y2="446" stroke="#c2c2c2" stroke-width="1" />
<line x1="853" y1="488.5" x2="853" y2="486" stroke="#c2c2c2" stroke-width="1" />
<line x1="853" y1="443.5" x2="853" y2="446" stroke="#c2c2c2" stroke-width="1" />
<polyline points="652.2,473 652.8,465 653.5,466 654,464 654.5,467 655,461 655.5,466 656,460 656.5,466 657,470 657.5,467 658.5,458 659,461 659.5,469 660,470 661,474 662,477.5 663,478.5 665,478 665.5,475.5 666,478 666.5,475 667,479 668,481 669,484 669.5,487.5 670,487.5 672,487.5 672.5,484 673,487.5 674,487.5 675,483 675.5,477 676,474 676.5,472 677,479 677.5,472 678,470 678.5,483 679,471 679.5,465 680,463 681,461 681.5,458.5 682,458 682.5,459 683,461 683.5,474 684,487.5 685,487.5 688,487.5 689,476 690,469 691,467 692,465 693,465 694,471 694.5,464 695.5,462 696,459 696.5,463 697.5,464 698,467 698.5,476 699,484 699.5,487.5 700,486 700.5,479 701,473 702,469 703,467 705,465 707,463 709,461 710,462 711,461.5 712,462 713,462.5 714,463.5 715,462.5 716,463 717,462 718,461 719,459 720,459.5 721,458.5 721.8,457.5 722.5,459 723,471 724,483 724.5,487.5 726,485 727,487.5 729,487.5 729.5,479 730,468 731,465 732,462 732.5,469 733,466 733.5,477 734,481 734.5,485 735,469 735.5,464 736,462 736.5,466 737,461 738,460 739,461 740,459.5 740.5,467 741,461 742,459.5 743,459 743.5,456 744,460 744.5,458 745.5,459 746,460 747,459 747.5,457.5 748,461 748.5,465 749,471 750,476 751,481 752,487 752.5,484 753,477 754,468 755,462 756,461 757,460.5 758,461 758.5,467 759,462 760,458.5 760.5,460 761,458 761.5,464 762,466 762.5,474 763,460 764,459 765,458.5 766,460 767,457 768,458 769,456 770,457.5 770.5,453 771,459 771.5,465 772,461 773,457 774,454 775,458 776,460 777,461 778,460 779,456 779.5,458 780,455 781,456 782,457.5 783,459 784,457 785,458 786,459 787,458 788,457.5 789,457 790,453 791,449 791.5,448.5 792,453 792.5,461 793,470 793.5,463 794,470 794.5,461 795,462 796,460 797,459 798,455 799,457 799.5,453 800,460 800.5,452 801,449 801.5,461 802,456 802.5,453 803,457 804,462 804.5,451 805,462 805.5,450 806,462 806.5,454 807,457 808,456 808.5,451 809,448.5 809.5,455 810,460 810.5,456 811,466 811.5,455 812,467 812.5,456 813,456 814,457 815,458 816,457 816.5,462 817,455 818,453 818.5,451 819,447.5 819.5,453 820,461 821,462 821.5,474 822,475 822.5,485 823,477 823.5,472 824,461 824.5,476 825,464 825.5,475 826,465 827,474 827.5,466 828,461 829,459 830,458 830.5,453 831,454 832,455 832.5,457 833,456 833.5,468 834,457 835,455 836,456 837,453 838,452 838.5,445 839,451 839.5,448 840,453 840.5,450 841,452 841.5,454 842,457 842.5,454 843,456 844,464 844.5,471 845,481 845.5,472 846,467 846.5,465 847,457 848,456 849,457 849.5,463 850,455 851,454 852,451 852.5,455 853,453 854,455 855,451 855.5,455 856,456 857,457 857.5,460 858,459 859,459.5 860,460 861,459 862,460.5 863,460 864,459.5 865,459 866,460 867,458.5 868,459.5 869,460 870,459.5 871,459.5 872,459 873,460 874,456 874.5,459 875,461 875.5,463 876,468 876.5,473 877,461 877.5,467 878,459 878.5,466 879,461 879.5,452 880,472 880.5,474 881,479 881.5,487 882,483 883,487 884,486 884.5,477 885,472 885.5,483 886,471 886.5,469 887,487 887.5,468 888,483" fill="none" stroke="#1e1e1e" stroke-width="1.2" stroke-linejoin="round"/>
<text x="758.97" y="440.52" font-size="11.7" textLength="43.31" lengthAdjust="spacingAndGlyphs" fill="#262626" stroke="#262626" stroke-width="0.45" stroke-linejoin="round" >M-HBI</text>
<text x="740.18" y="499.65" font-size="11.39" textLength="27.09" lengthAdjust="spacingAndGlyphs" fill="#262626" stroke="#262626" stroke-width="0.2" stroke-linejoin="round" >100</text>
<text x="838.14" y="499.65" font-size="11.39" textLength="26.71" lengthAdjust="spacingAndGlyphs" fill="#262626" stroke="#262626" stroke-width="0.2" stroke-linejoin="round" >200</text>
</svg>
</body></html>
